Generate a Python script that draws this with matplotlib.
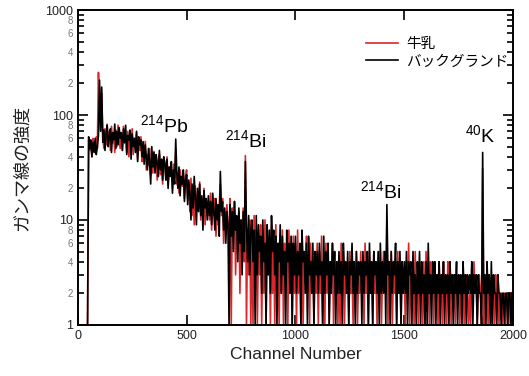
import numpy as np
import matplotlib
matplotlib.use('Agg')
from matplotlib import pyplot as plt
from matplotlib.ticker import LogLocator, FuncFormatter, FixedLocator

plt.rcParams['font.family'] = ['Liberation Sans', 'Noto Sans CJK JP']
plt.rcParams['mathtext.fontset'] = 'custom'
plt.rcParams['mathtext.rm'] = 'Liberation Sans'
plt.rcParams['mathtext.default'] = 'regular'

# チャンネル (5 チャンネルごと)
channels = np.arange(0, 2000, 5)

# バックグランド
background = [
    1, 1, 1, 1, 1, 1, 1, 1, 1, 1, 62, 48, 58, 40, 55, 44, 60, 42, 50, 64,
    215, 70, 185, 55, 72, 46, 66, 80, 50, 62, 74, 44, 68, 58, 82, 48, 70, 52, 76, 60,
    68, 46, 74, 55, 80, 42, 64, 58, 72, 38, 66, 50, 60, 44, 70, 36, 62, 52, 58, 40,
    56, 34, 52, 40, 30, 48, 36, 22, 50, 32, 44, 28, 42, 35, 26, 46, 30, 38, 24, 40,
    34, 24, 38, 20, 32, 26, 36, 18, 30, 22, 59, 28, 20, 32, 17, 26, 22, 30, 15, 24,
    27, 14, 24, 18, 10, 22, 13, 26, 16, 9, 20, 12, 22, 11, 17, 8, 19, 13, 16, 10,
    17, 11, 15, 9, 18, 12, 8, 16, 10, 14, 7, 29, 12, 15, 8, 13, 6, 12, 9, 1,
    14, 7, 12, 5, 15, 8, 11, 4, 13, 6, 10, 3, 12, 5, 36, 9, 4, 11, 3, 8,
    10, 4, 8, 1, 11, 3, 9, 5, 7, 2, 10, 4, 6, 1, 9, 3, 8, 2, 11, 5,
    8, 3, 7, 1, 6, 4, 9, 2, 7, 3, 5, 1, 8, 4, 6, 2, 7, 1, 6, 3,
    7, 2, 5, 3, 6, 1, 8, 4, 5, 2, 6, 1, 7, 3, 4, 2, 6, 1, 5, 3,
    5, 2, 6, 3, 4, 1, 7, 2, 5, 3, 6, 1, 4, 2, 6, 3, 5, 1, 4, 2,
    5, 2, 4, 1, 6, 3, 4, 2, 5, 1, 4, 3, 6, 2, 4, 1, 5, 2, 4, 3,
    4, 1, 5, 2, 4, 3, 5, 1, 6, 2, 4, 1, 5, 3, 4, 2, 5, 1, 6, 2,
    4, 2, 5, 1, 14, 3, 4, 1, 5, 2, 4, 3, 6, 1, 4, 2, 5, 1, 4, 2,
    4, 2, 5, 1, 4, 3, 4, 1, 5, 2, 3, 1, 4, 2, 5, 1, 4, 2, 3, 1,
    4, 1, 6, 2, 3, 1, 4, 2, 4, 1, 3, 2, 4, 1, 3, 2, 4, 1, 3, 2,
    3, 1, 4, 2, 3, 1, 3, 2, 4, 1, 3, 2, 3, 1, 4, 2, 3, 1, 3, 2,
    3, 2, 4, 1, 3, 2, 3, 1, 3, 2, 2, 1, 44, 2, 3, 1, 4, 2, 3, 1,
    4, 1, 3, 2, 2, 1, 3, 2, 2, 1, 2, 2, 1, 2, 2, 1, 2, 2, 1, 2,
]

# 牛乳
milk = [
    1, 1, 1, 1, 1, 1, 1, 1, 1, 1, 58, 46, 52, 40, 60, 50, 44, 62, 48, 255,
    120, 150, 160, 62, 48, 74, 52, 82, 56, 70, 46, 78, 54, 66, 44, 72, 50, 80, 58, 48,
    66, 46, 78, 54, 64, 44, 70, 40, 58, 52, 74, 42, 60, 48, 68, 38, 56, 46, 62, 36,
    48, 38, 56, 30, 42, 33, 48, 26, 38, 28, 45, 32, 40, 24, 36, 42, 27, 34, 22, 38,
    36, 24, 40, 22, 32, 27, 30, 20, 34, 25, 45, 22, 28, 18, 30, 24, 21, 28, 16, 26,
    30, 16, 22, 12, 25, 11, 19, 9, 21, 12, 18, 14, 23, 10, 16, 12, 20, 9, 15, 11,
    15, 10, 18, 8, 13, 11, 16, 7, 12, 9, 14, 22, 11, 16, 6, 12, 8, 14, 10, 5,
    16, 1, 13, 8, 15, 3, 9, 5, 12, 2, 10, 6, 13, 4, 41, 1, 8, 3, 10, 1,
    9, 1, 11, 2, 8, 1, 6, 3, 9, 1, 7, 2, 10, 1, 8, 3, 6, 1, 9, 2,
    7, 1, 9, 2, 5, 1, 7, 2, 8, 1, 6, 3, 5, 1, 8, 2, 6, 1, 7, 2,
    6, 1, 8, 2, 5, 1, 6, 1, 4, 3, 7, 2, 5, 1, 6, 2, 4, 1, 5, 2,
    6, 1, 5, 2, 7, 1, 4, 1, 6, 2, 5, 1, 4, 3, 6, 1, 5, 2, 4, 1,
    4, 1, 6, 2, 5, 1, 3, 2, 4, 1, 5, 2, 3, 1, 4, 2, 5, 1, 3, 2,
    5, 2, 4, 1, 6, 2, 3, 1, 5, 2, 4, 1, 5, 2, 3, 1, 4, 2, 5, 1,
    3, 5, 4, 2, 10, 1, 4, 2, 5, 1, 3, 2, 4, 1, 5, 2, 3, 1, 4, 2,
    3, 1, 4, 2, 6, 1, 3, 2, 4, 1, 5, 2, 3, 1, 4, 2, 3, 1, 4, 1,
    5, 2, 3, 1, 4, 2, 3, 1, 4, 2, 3, 1, 4, 2, 3, 1, 4, 2, 3, 1,
    4, 2, 3, 1, 2, 3, 2, 1, 3, 2, 3, 1, 2, 2, 3, 1, 2, 3, 2, 1,
    2, 1, 3, 2, 4, 2, 3, 1, 2, 3, 2, 1, 31, 1, 2, 3, 2, 1, 3, 2,
    1, 2, 3, 1, 3, 2, 3, 1, 2, 2, 1, 2, 2, 1, 2, 2, 1, 2, 2, 1,
]

# ピークのラベル
peak_labels = [r'$^{214}$Pb', r'$^{214}$Bi', r'$^{214}$Bi', r'$^{40}$K']
peak_x = [398, 772, 1393, 1848]
peak_y = [69, 49, 16, 55]

fig = plt.figure(figsize=(5.29, 3.76), dpi=100)
ax = fig.add_axes([0.147, 0.136, 0.823, 0.837])

ax.plot(channels, milk, color='#d8262a', lw=1.2, label='牛乳')
ax.plot(channels, background, color='black', lw=1.2, label='バックグランド')

for t, x, y in zip(peak_labels, peak_x, peak_y):
    ax.text(x, y, t, ha='center', va='baseline', fontsize=14)

ax.set_yscale('log')
ax.set_xlim(0, 2000)
ax.set_ylim(1, 1000)
ax.set_xticks([0, 500, 1000, 1500, 2000])
ax.yaxis.set_major_locator(FixedLocator([1, 10, 100, 1000]))
ax.yaxis.set_major_formatter(FuncFormatter(lambda v, p: '%d' % v))
ax.yaxis.set_minor_locator(LogLocator(base=10, subs=np.arange(2, 10)))

def minor_fmt(v, p):
    m = int(round(v / 10 ** np.floor(np.log10(v))))
    return str(m) if m in (2, 4, 6, 8) else ''

ax.yaxis.set_minor_formatter(FuncFormatter(minor_fmt))

ax.tick_params(which='both', direction='in', top=True, right=True, width=1.2)
ax.tick_params(which='major', length=7, labelsize=9, labelcolor='#222222')
ax.tick_params(which='minor', length=4, labelsize=7, labelcolor='#777777')
ax.tick_params(axis='x', which='minor', bottom=False, top=False)
for s in ax.spines.values():
    s.set_linewidth(1.4)

ax.set_xlabel('Channel Number', fontsize=12.5, color='#222222')
ax.set_ylabel('ガンマ線の強度', fontsize=13, color='#222222', labelpad=10)

ax.legend(loc='upper right', bbox_to_anchor=(1.02, 0.955), frameon=False,
          fontsize=10.5, handlelength=2.2, handletextpad=0.6, labelspacing=0.2)

plt.savefig('out.png', dpi=100)
